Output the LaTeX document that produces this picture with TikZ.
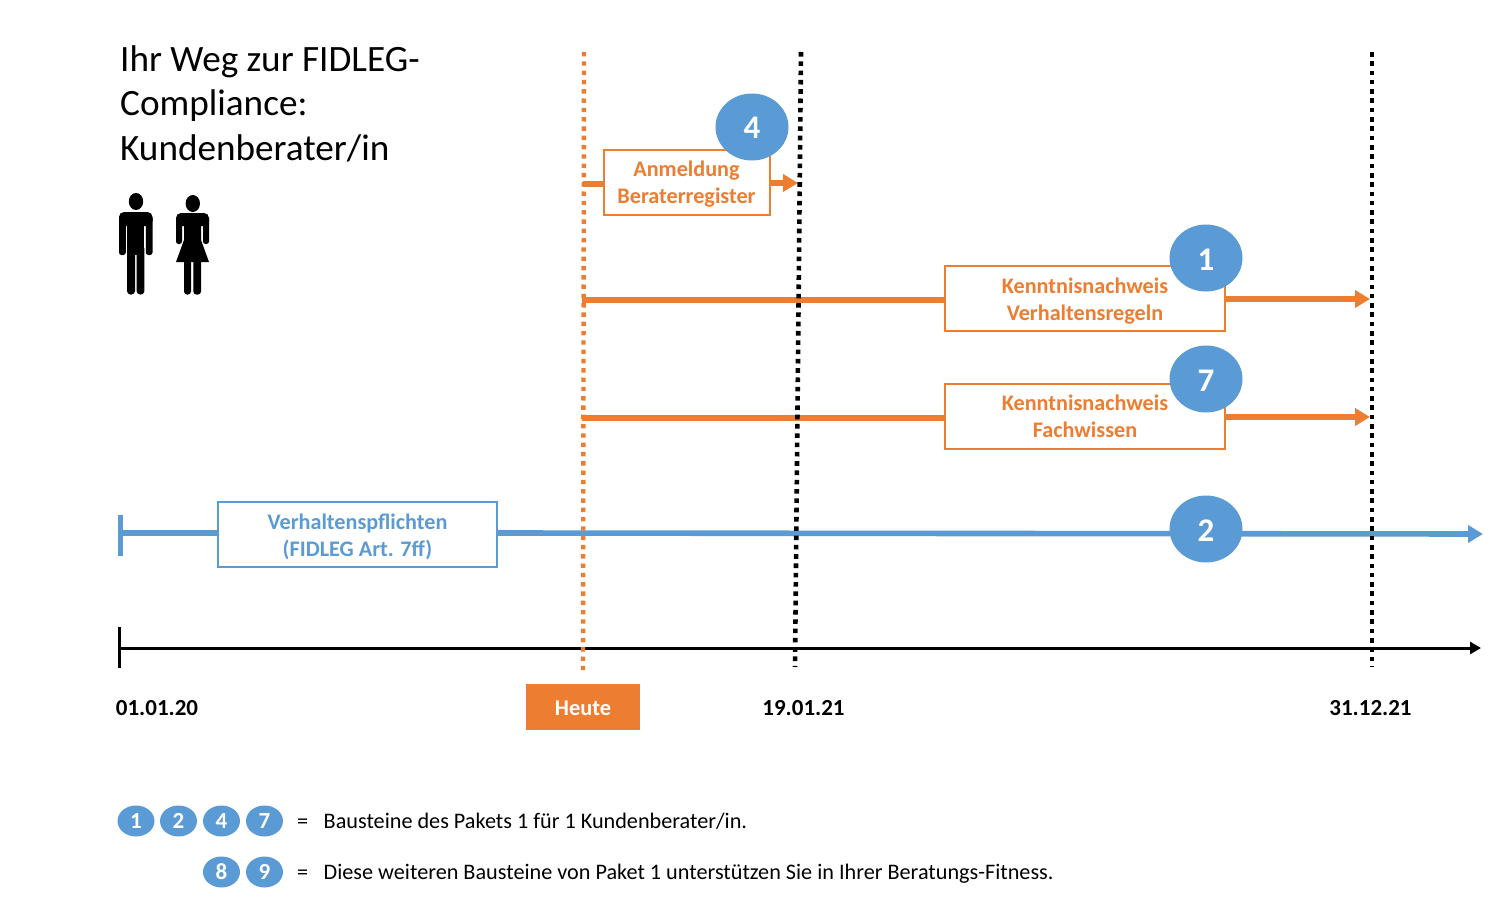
\documentclass[tikz,border=0pt]{standalone}
\usepackage{fontspec}
\setmainfont{Carlito}
\usetikzlibrary{arrows.meta,shapes.geometric}
\definecolor{cOr}{HTML}{ED7D31}
\definecolor{cBl}{HTML}{5B9BD5}
\newcommand{\dn}[1]{\rule{0pt}{#1pt}}
\tikzset{
  x=1pt,y=-1pt,
  orbox/.style={draw=cOr,line width=2pt,fill=white,text=cOr,font=\fontsize{22.2}{27}\selectfont\bfseries,align=center,inner sep=0pt,minimum height=65pt},
  blbox/.style={draw=cBl,line width=2pt,fill=white,text=cBl,font=\fontsize{22.2}{27}\selectfont\bfseries,align=center,inner sep=0pt,minimum height=65pt},
  orline/.style={cOr,line width=5.2pt},
  orarrow/.style={cOr,line width=5.2pt,-{Triangle[length=15pt,width=17pt]}},
  blline/.style={cBl,line width=5.6pt},
  dotsb/.style={black,line width=4.6pt,dash pattern=on 4.6pt off 4.7pt},
  dotso/.style={cOr,line width=4.4pt,dash pattern=on 4.4pt off 4.9pt},
  datelabel/.style={font=\fontsize{23}{23}\selectfont\bfseries,text=black,inner sep=0pt},
  legend/.style={font=\fontsize{22.2}{24}\selectfont,text=black,inner sep=0pt,anchor=west},
  person/.style={fill=black,draw=none},
  bigdot/.style={ellipse,fill=cBl,text=white,inner sep=0pt,minimum width=73pt,minimum height=67pt,font=\fontsize{33}{33}\selectfont\bfseries},
  smalldot/.style={ellipse,fill=cBl,text=white,inner sep=0pt,minimum width=37pt,minimum height=31pt,font=\fontsize{23}{23}\selectfont\bfseries},
}
\begin{document}
\begin{tikzpicture}
\useasboundingbox (0,0) rectangle (1500,899);
% title
\node[anchor=north west,inner sep=0pt,align=left,font=\fontsize{37.2}{44.5}\selectfont] (title) at (120,45) {Ihr Weg zur FIDLEG-\\Compliance:\\Kundenberater/in};
% man
\fill[person] (136,201.5) ellipse (7.2 and 8.5);
\fill[person,rounded corners=5pt] (119,212) rectangle (152.5,226);
\fill[person,rounded corners=2.5pt] (119,216) rectangle (125.8,255);
\fill[person,rounded corners=2.5pt] (145.8,216) rectangle (152.5,255);
\fill[person] (127,214) rectangle (144.4,255);
\fill[person,rounded corners=3.5pt] (127,245) rectangle (135,294.5);
\fill[person,rounded corners=3.5pt] (136.6,245) rectangle (144.4,294.5);
% woman
\fill[person] (192.8,203.5) ellipse (7.2 and 8.5);
\fill[person,rounded corners=5pt] (176,213) rectangle (209,226);
\fill[person,rounded corners=2.5pt] (176,217) rectangle (182,244);
\fill[person,rounded corners=2.5pt] (203,217) rectangle (209,244);
\fill[person] (184,215) -- (201,215) -- (201,240) -- (209,262) -- (176,262) -- (184,240) -- cycle;
\fill[person,rounded corners=3pt] (184,255) rectangle (191,294.5);
\fill[person,rounded corners=3pt] (193.3,255) rectangle (201,294.5);
% coordinates
\coordinate (t0) at (120.5,515);
\coordinate (t0b) at (120.5,556);
\coordinate (ax0) at (119,627);
\coordinate (ax0b) at (119,668);
\coordinate (axL) at (119,648);
\coordinate (axR) at (1481,648);
\coordinate (blL) at (120,533);
\coordinate (blR) at (1483,534);
\coordinate (hT) at (584,52);
\coordinate (hB) at (583,670);
\coordinate (aT) at (801,52);
\coordinate (aB) at (795,667);
\coordinate (bT) at (1372,52);
\coordinate (bB) at (1372,667);
\coordinate (o1) at (583,184);
\coordinate (o1e) at (798,183);
\coordinate (o2) at (582,300);
\coordinate (o2e) at (1370,299);
\coordinate (o3) at (582,418);
\coordinate (o3e) at (1370,417);
% boxes
\node[orbox,minimum width=166pt] (anm) at (686.5,182) {\dn{20}Anmeldung\\Beraterregister};
\node[orbox,minimum width=280pt] (kv) at (1085,298.5) {\dn{20}Kenntnisnachweis\\Verhaltensregeln};
\node[orbox,minimum width=280pt] (kf) at (1085,416.5) {Kenntnisnachweis\\Fachwissen};
\node[blbox,minimum width=279pt] (vp) at (357.5,534.5) {\dn{20}Verhaltenspflichten\\(FIDLEG Art. 7ff)};
% connectors
\draw[orline] (o1) -- (anm.west |- o1);
\draw[orarrow] (anm.east |- o1e) -- (o1e);
\draw[orline] (o2) -- (kv.west |- o2);
\draw[orarrow] (kv.east |- o2e) -- (o2e);
\draw[orline] (o3) -- (kf.west |- o3);
\draw[orarrow] (kf.east |- o3e) -- (o3e);
\draw[blline] (blL) -- (vp.west |- blL);
\draw[blline,-{Triangle[length=15pt,width=17pt]}] (vp.east |- blL) -- (blR);
\draw[cBl,line width=4.4pt] (t0) -- (t0b);
% axis
\draw[black,line width=3pt,-{Triangle[length=11pt,width=12pt]}] (axL) -- (axR);
\draw[black,line width=3pt] (ax0) -- (ax0b);
% vlines
\draw[dotso] (hT) -- (hB);
\draw[dotsb] (aT) -- (aB);
\draw[dotsb] (bT) -- (bB);
% dots
\node[bigdot] (n4) at (752,127) {\dn{24}4};
\node[bigdot] (n1) at (1206,258) {\dn{24}1};
\node[bigdot] (n7) at (1206,379) {\dn{24}7};
\node[bigdot] (n2) at (1206,529) {\dn{24}2};
% dates
\node[datelabel,anchor=base] (d1) at (157,715) {01.01.20};
\node[datelabel,anchor=base] (d2) at (803.5,715) {19.01.21};
\node[datelabel,anchor=base] (d3) at (1370.5,715) {31.12.21};
\node[fill=cOr,text=white,font=\fontsize{22.4}{22}\selectfont\bfseries,minimum width=114pt,minimum height=46pt,inner sep=0pt] (heute) at (583,707) {\dn{17}Heute};
% legend
\node[smalldot] (l1) at (136,821) {1};
\node[smalldot] (l2) at (178.5,821) {2};
\node[smalldot] (l4) at (221.5,821) {4};
\node[smalldot] (l7) at (264.5,821) {7};
\node[smalldot] (l8) at (221.5,872) {8};
\node[smalldot] (l9) at (264.5,872) {9};
\node[legend,anchor=base west] (e1) at (297,828) {=};
\node[legend,anchor=base west] (e2) at (297,879) {=};
\node[legend,anchor=base west] (t1) at (323.5,828) {Bausteine des Pakets 1 für 1 Kundenberater/in.};
\node[legend,anchor=base west] (t2) at (323.5,879) {Diese weiteren Bausteine von Paket 1 unterstützen Sie in Ihrer Beratungs-Fitness.};
\end{tikzpicture}
\end{document}
